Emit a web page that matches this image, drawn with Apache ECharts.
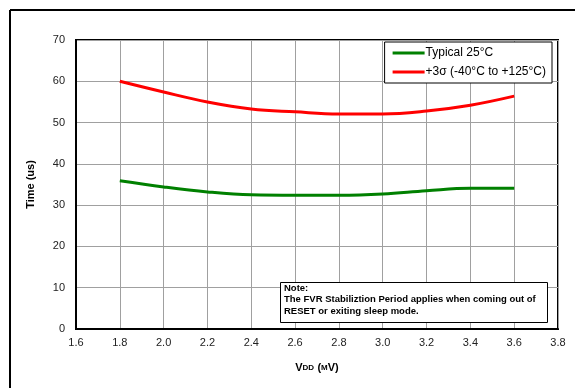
<!DOCTYPE html>
<html><head><meta charset="utf-8">
<script src="https://cdn.jsdelivr.net/npm/echarts@6/dist/echarts.min.js"></script>
<style>html,body{margin:0;padding:0;background:#fff}#c{width:575px;height:388px}</style>
</head><body><div id="c"></div>
<script>
const vdd = [1.8, 2.0, 2.2, 2.4, 2.6, 2.8, 3.0, 3.2, 3.4, 3.6];
const typical = [35.9, 34.4, 33.2, 32.5, 32.4, 32.4, 32.7, 33.5, 34.1, 34.1];
const sigma3 = [60.0, 57.4, 55.0, 53.3, 52.6, 52.1, 52.1, 52.8, 54.2, 56.4];
const seriesNames = ['Typical 25°C', '+3σ (-40°C to +125°C)'];
const noteLines = ['Note:', 'The FVR Stabiliztion Period applies when coming out of', 'RESET or exiting sleep mode.'];

const chart = echarts.init(document.getElementById('c'), null, {renderer: 'canvas'});
const font = 'Liberation Sans, Arial, sans-serif';
chart.setOption({
  animation: false,
  textStyle: {fontFamily: font},
  grid: {left: 76, top: 40, right: 17, bottom: 59, show: true, borderColor: '#000', borderWidth: 2, backgroundColor: 'transparent'},
  legend: {
    orient: 'vertical', right: 23, top: 42,
    backgroundColor: '#fff', borderColor: '#000', borderWidth: 1,
    padding: [5, 6, 5, 8], itemGap: 7,
    itemWidth: 32, itemHeight: 3, icon: 'rect',
    textStyle: {fontSize: 12, color: '#000', fontFamily: font, padding: [0, 0, 0, -4]},
    data: seriesNames
  },
  xAxis: {
    type: 'value', min: 1.6, max: 3.8, interval: 0.2,
    axisLine: {show: true, lineStyle: {color: '#000', width: 2}},
    axisTick: {show: false},
    axisLabel: {fontSize: 11, color: '#222', margin: 8, formatter: v => v.toFixed(1)},
    splitLine: {show: true, lineStyle: {color: '#a0a0a0', width: 1}},
    name: '{a|V}{b|DD} {a|(}{b|M}{a|V)}',
    nameLocation: 'middle', nameGap: 33,
    nameTextStyle: {rich: {
      a: {fontSize: 11, fontWeight: 'bold', color: '#000', fontFamily: font},
      b: {fontSize: 8, fontWeight: 'bold', color: '#000', fontFamily: font}
    }}
  },
  yAxis: {
    type: 'value', min: 0, max: 70, interval: 10,
    axisLine: {show: true, lineStyle: {color: '#000', width: 2}},
    axisTick: {show: false},
    axisLabel: {fontSize: 11, color: '#222', margin: 11},
    splitLine: {show: true, lineStyle: {color: '#a0a0a0', width: 1}},
    name: 'Time (us)', nameLocation: 'middle', nameGap: 40,
    nameTextStyle: {fontSize: 11, fontWeight: 'bold', color: '#000'}
  },
  series: [
    {name: seriesNames[0], type: 'line', smooth: 0.4, symbol: 'none', color: '#008000',
     lineStyle: {width: 3, color: '#008000'}, data: vdd.map((x, i) => [x, typical[i]]), z: 3},
    {name: seriesNames[1], type: 'line', smooth: 0.4, symbol: 'none', color: '#ff0000',
     lineStyle: {width: 3, color: '#ff0000'}, data: vdd.map((x, i) => [x, sigma3[i]]), z: 3}
  ],
  graphic: [
    {type: 'line', shape: {x1: 10, y1: 10, x2: 575, y2: 10}, style: {stroke: '#000', lineWidth: 2}, z: 10},
    {type: 'line', shape: {x1: 10, y1: 10, x2: 10, y2: 388}, style: {stroke: '#000', lineWidth: 2}, z: 10},
    {type: 'rect', shape: {x: 280.5, y: 282.5, width: 267, height: 40}, style: {fill: '#fff', stroke: '#000', lineWidth: 1}, z: 10},
    {type: 'text', left: 284, top: 283.5, z: 11, style: {text: noteLines[0], font: 'bold 9.5px ' + font, fill: '#000'}},
    {type: 'text', left: 284, top: 294.5, z: 11, style: {text: noteLines[1], font: 'bold 9.5px ' + font, fill: '#000'}},
    {type: 'text', left: 284, top: 306, z: 11, style: {text: noteLines[2], font: 'bold 9.5px ' + font, fill: '#000'}}
  ]
});
</script></body></html>
